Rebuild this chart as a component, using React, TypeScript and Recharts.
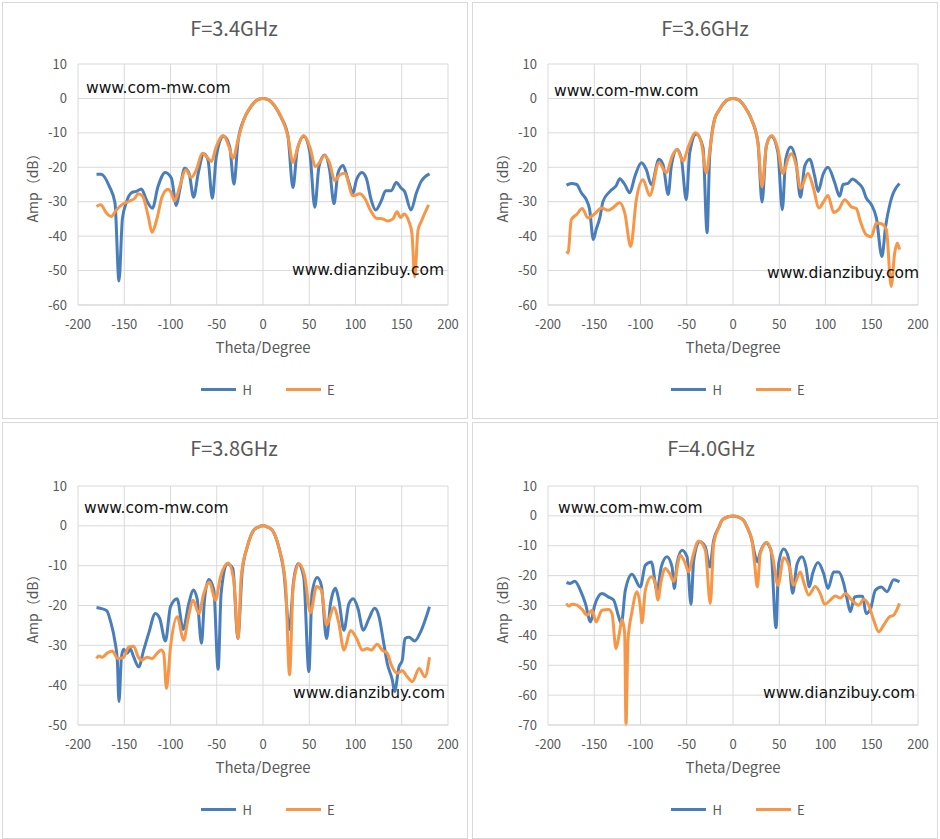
import React from 'react';
import { LineChart, Line, CartesianGrid, XAxis, YAxis, Legend } from 'recharts';

type Pt = [number, number];

const thetaTicks = [-200, -150, -100, -50, 0, 50, 100, 150, 200];
const ampTicks60 = [10, 0, -10, -20, -30, -40, -50, -60];
const ampTicks50 = [10, 0, -10, -20, -30, -40, -50];
const ampTicks70 = [10, 0, -10, -20, -30, -40, -50, -60, -70];
const titles = ['F=3.4GHz', 'F=3.6GHz', 'F=3.8GHz', 'F=4.0GHz'];
const seriesNames = ['H', 'E'];

// [theta (deg), amplitude (dB)]
const h34: Pt[] = [
  [-180, -22], [-175, -22], [-166, -25.6], [-160, -30.4], [-155.7, -53], [-152, -35], [-148, -30.4],
  [-141.6, -27.3], [-137, -27], [-131.5, -26.3], [-126, -29.5], [-119.6, -31.9], [-113.5, -25.6],
  [-105.6, -21.5], [-99, -23.2], [-93.7, -31.1], [-90, -26.6], [-84.7, -20.3], [-80, -21.7], [-75, -28.7],
  [-70, -21.7], [-64, -16.1], [-59.5, -17.8], [-54.8, -29], [-50.5, -16.9], [-42.5, -11], [-36, -14],
  [-31.4, -24.9], [-27, -12.5], [-20, -5.7], [-15, -3.2], [-10, -1.3], [-5, -0.3], [0, 0], [5, -0.3],
  [10, -1.3], [15, -3.2], [20, -5.7], [27, -11], [32.4, -25.9], [37, -15], [44, -11], [50.5, -15.4],
  [56, -31.6], [60.5, -19.8], [66.7, -16.4], [72, -20.7], [76.8, -30.6], [81, -21.7], [86.5, -19.5],
  [92, -23.7], [97.3, -27.5], [101, -23.7], [107, -21.5], [111.7, -23.2], [117, -29.5], [121.8, -32.4],
  [128, -29.7], [132.6, -26.8], [138.7, -26.8], [144, -24.4], [149.5, -26.1], [153, -27], [160, -32.4],
  [165.8, -27.5], [171, -24.1], [180, -21.9],
];
const e34: Pt[] = [
  [-180, -31.4], [-175.5, -30.9], [-169, -33.4], [-164, -34.3], [-158.6, -32.4], [-151, -30.6], [-144, -29.8],
  [-138.7, -29], [-135, -27.7], [-130, -28.5], [-124, -34.3], [-120, -38.9], [-115, -35.3], [-109, -28.5],
  [-102.7, -26.4], [-99, -27.5], [-95.5, -29.8], [-90, -25.6], [-83.6, -20.7], [-77.5, -22.9], [-72, -20.7],
  [-65.6, -15.9], [-61, -16.9], [-55.9, -18.3], [-50.5, -14], [-43, -10.8], [-36.8, -14], [-32.4, -17.4],
  [-27, -12], [-20, -5.6], [-15, -3.1], [-10, -1.3], [-5, -0.3], [0, 0], [5, -0.3], [10, -1.3], [15, -3.1],
  [20, -5.6], [27, -11], [32.4, -18.6], [37.8, -14], [44, -10.8], [50.5, -14], [57, -19.8], [61, -18.6],
  [66.7, -16.6], [72, -18.8], [77.5, -23.9], [83, -22.2], [88.3, -21.7], [97.3, -28.3], [104.5, -27.7],
  [110, -29], [116, -32.4], [122.5, -34.8], [129.7, -35], [135, -35.6], [140.5, -35], [144.9, -32.9],
  [148.8, -34.6], [152.4, -33.6], [157.8, -35.8], [161, -39.2], [164, -51.8], [167.6, -38.2], [171, -35.8],
  [179, -30.9],
];

const h36: Pt[] = [
  [-180, -25.2], [-174.8, -24.7], [-169, -25], [-164, -27.4], [-158.6, -29.4], [-155, -32.3], [-151, -41],
  [-148, -38.1], [-144, -34.7], [-140.5, -29.9], [-133, -27], [-126, -25.2], [-122.5, -23.3], [-117, -25],
  [-111.7, -27.4], [-106, -22.6], [-99, -18.7], [-93.7, -20.7], [-88.3, -25], [-80, -17.7], [-75.7, -19.2],
  [-70, -27.9], [-66.7, -19.7], [-60.5, -14.8], [-55.9, -17.3], [-50.5, -29.4], [-46.8, -15.8], [-39.6, -10.3],
  [-32.4, -14.3], [-28, -39], [-25.2, -16.8], [-20, -6.1], [-15, -3.4], [-10, -1.4], [-5, -0.3], [0, 0],
  [5, -0.3], [10, -1.4], [15, -3.4], [20, -6.1], [27, -12.9], [31.4, -30.1], [36, -13.9], [41.4, -11],
  [48.6, -15.8], [53.3, -32.3], [57, -17.7], [62.3, -14.1], [67.7, -17.7], [73, -28.7], [77.5, -19.7],
  [83, -17.7], [88.3, -22.6], [92, -27], [97.3, -22.1], [102.7, -20], [110, -24.5], [115.3, -28.4],
  [119, -25], [124.3, -24.7], [129, -23.4], [135, -24.5], [140.5, -26.3], [144, -28.9], [149.5, -30.8],
  [155, -34.7], [161, -45.9], [165, -37.1], [170, -30.3], [180, -24.7],
];
const e36: Pt[] = [
  [-180, -44.4], [-178.4, -44.9], [-174.8, -35.2], [-169, -33.7], [-163, -32], [-156.8, -34.7], [-149.5, -33.5],
  [-142.3, -31.8], [-135, -32.5], [-130, -31.8], [-122.5, -30.3], [-117, -33.3], [-110.6, -43], [-104.5, -29.4],
  [-97.3, -23.6], [-90, -28.2], [-80, -18.7], [-72, -21.6], [-65.6, -16.6], [-60.5, -14.8], [-54, -18.2],
  [-48.6, -14.3], [-40.4, -10], [-34.2, -12.9], [-28.8, -21.6], [-24.5, -13.9], [-20, -6.1], [-15, -3.4],
  [-10, -1.4], [-5, -0.3], [0, 0], [5, -0.3], [10, -1.4], [15, -3.4], [20, -6.1], [27, -12.9], [31.4, -25.7],
  [36, -13.9], [42, -10.8], [48.6, -14.8], [54, -21.8], [60.5, -16.8], [63, -16.1], [68.5, -19.7], [73, -26.1],
  [81, -21.8], [86.5, -25.6], [93, -31.8], [97.3, -30.3], [102.7, -28.2], [108.8, -33.1], [114.6, -32.1],
  [120.7, -29.4], [128, -31.5], [133.3, -32], [137.7, -35.7], [144, -39.6], [149.5, -40.2], [155, -36.2],
  [160.4, -36.4], [165.8, -38.1], [171, -54.6], [174.8, -44.9], [177.7, -42], [180, -43.9],
];

const h38: Pt[] = [
  [-180, -20.5], [-175.8, -20.7], [-169, -21.3], [-164.7, -24.1], [-160, -29.1], [-157.5, -33.7], [-155.7, -44.1],
  [-153, -32.9], [-150.6, -31], [-147, -32], [-143.4, -31], [-139.8, -32.9], [-134.4, -35.4], [-129, -31.2],
  [-123.6, -27], [-116.3, -22], [-111.6, -23.3], [-105.5, -28.9], [-100, -20.3], [-92.8, -18.3], [-86.4, -26],
  [-80.2, -19.5], [-75.5, -16.1], [-71.2, -18.3], [-66.5, -29.5], [-63.3, -18.7], [-58.6, -13.5], [-53.2, -16.1],
  [-48.5, -36], [-45.3, -17], [-38.8, -9.5], [-32.6, -10.7], [-27.2, -28.3], [-22.5, -11.5], [-17, -5.3],
  [-10, -1.1], [-5, -0.3], [0, 0], [5, -0.3], [10, -1.1], [17, -5.3], [22.5, -11.5], [28.5, -26], [33, -14],
  [38, -9.5], [44, -12.8], [49.6, -36.6], [53, -17], [58.6, -13], [63, -14.9], [68.7, -28.3], [73, -19.5],
  [78.4, -15.7], [82, -18.7], [87.5, -26.2], [92.9, -19.5], [97.6, -18.3], [102.6, -20.7], [108.4, -26.2],
  [114.5, -23.3], [120.7, -20.7], [125.4, -22.8], [130, -28.7], [134.3, -34.5], [139.8, -38.7], [142.3, -41.6],
  [147, -35.4], [150.6, -33.7], [153.5, -28.3], [157.8, -28], [164, -28.9], [170.4, -26.6], [180, -20.3],
];
const e38: Pt[] = [
  [-180, -33.3], [-177.6, -32.7], [-174, -33], [-168.6, -32], [-163, -31.4], [-157, -33.3], [-150.6, -33],
  [-145.2, -30.4], [-139.8, -30.2], [-135, -32.9], [-130.8, -33.7], [-125.4, -33], [-120, -33.3], [-114.5, -32],
  [-110.2, -31.2], [-107.3, -32], [-104.4, -40.8], [-100, -30.4], [-92.8, -22.8], [-85.7, -28.7], [-81.3, -23.7],
  [-75.5, -18.7], [-69.4, -22], [-64, -17], [-57.9, -14.1], [-51.4, -18.7], [-46, -12.8], [-37.7, -9.3],
  [-31.6, -13.7], [-26.9, -28.3], [-23.6, -12.8], [-17, -5.3], [-10, -1.1], [-5, -0.3], [0, 0], [5, -0.3],
  [10, -1.1], [17, -5.3], [24.3, -14.5], [28.7, -37.4], [32.6, -15.3], [38.8, -9.5], [44.9, -12.4],
  [51.4, -21.8], [57.9, -15.2], [63, -16.1], [68.7, -24.9], [76.6, -20.5], [82, -24.5], [87.5, -31.2],
  [94.7, -26.3], [101.2, -28.3], [107.4, -31.2], [112.7, -30.8], [117, -31.2], [123.5, -29.7], [128.9, -31.2],
  [134.3, -32], [138.7, -34.9], [145.1, -37], [150.6, -36.4], [156, -37.9], [161.5, -39.1], [168.8, -35.8],
  [175, -37.9], [180, -33],
];

const h40: Pt[] = [
  [-180, -22.3], [-175.9, -22.6], [-171, -21.9], [-165, -24.9], [-159.6, -29.3], [-154, -35.5], [-149.5, -29.9],
  [-141.6, -26], [-135, -27.1], [-129, -28.2], [-123.6, -33.8], [-120.7, -36], [-116.4, -24.9], [-109.2, -19.5],
  [-100.2, -23.8], [-94.8, -16.5], [-88.3, -15.4], [-82.2, -24.9], [-77.5, -17.1], [-71.4, -13.7], [-65.9, -17.1],
  [-63.4, -24.3], [-60.5, -15.9], [-55.1, -11.5], [-49.7, -13.7], [-45.4, -29.6], [-42.5, -14.9], [-36, -8.7],
  [-29.9, -10.4], [-25.2, -17.1], [-20.9, -8.2], [-15, -3.6], [-11.9, -1.5], [-5, -0.3], [0, 0], [5, -0.3],
  [11.5, -1.5], [15, -3.6], [20.5, -8.2], [23.4, -12.6], [26.3, -15.4], [29.5, -12.1], [35.7, -9], [41, -11.5],
  [46.5, -37.4], [49.4, -15.9], [54.8, -11.1], [60.2, -14.3], [64.5, -25.9], [69.2, -16.2], [74.6, -13.7],
  [78.9, -17.1], [82.5, -23.8], [86.1, -19.3], [91.9, -15.6], [98, -19.3], [102.7, -24.3], [108.8, -18.8],
  [114.2, -18.8], [119.6, -22.6], [123.2, -27.6], [126.8, -32.1], [131.5, -27.1], [135.9, -26.9], [140.2, -26.9],
  [143.8, -32.7], [148.5, -31.3], [153.9, -24.9], [160.4, -23.8], [166.5, -25.4], [173.7, -21.4], [180, -22.1],
];
const e40: Pt[] = [
  [-180, -29.3], [-177.7, -30.2], [-174, -29.6], [-168.6, -29.9], [-163.2, -31.3], [-157.8, -33.2], [-152.4, -31.6],
  [-148, -35.5], [-141.6, -31.6], [-134.4, -31.3], [-130.8, -32.7], [-126.5, -44.4], [-122.9, -39.4], [-120, -34.7],
  [-117.1, -39.4], [-115.7, -70], [-113.5, -41.6], [-109.2, -32.1], [-103.8, -25.4], [-100.2, -30.4], [-98.4, -35.8],
  [-94.8, -24.9], [-88.3, -20.4], [-84, -22.6], [-81.4, -28.2], [-77.5, -21.5], [-73.2, -17.6], [-68.5, -19.3],
  [-64.1, -21.9], [-56.9, -13.2], [-51.5, -16], [-47.9, -18.8], [-43.6, -13.7], [-37.1, -8.4], [-29.9, -11.5],
  [-24.5, -29.3], [-20.9, -9.3], [-15, -3.6], [-11.9, -1.5], [-5, -0.3], [0, 0], [5, -0.3], [11.5, -1.5],
  [15, -3.6], [20.5, -8.2], [23.4, -16], [26.3, -23.8], [29.5, -12.6], [36.8, -8.9], [42.9, -13.7], [48.6, -23.2],
  [54.8, -14], [61, -17.1], [65.6, -23.2], [72.8, -18.8], [76.4, -22.1], [81.8, -26.5], [89, -23.6], [94.4, -26],
  [99.1, -29.6], [105.2, -28.2], [110.6, -26.8], [116, -27.5], [121.4, -26], [128.6, -28.2], [135.9, -29.9],
  [141.3, -27.9], [146.7, -29.9], [152.1, -34.9], [157.5, -38.8], [162.9, -36.6], [169, -33.8], [173.7, -33.2],
  [180, -29.3],
];

const BLUE = '#4a7ebb';
const ORANGE = '#f79646';
const GRID = '#d9d9d9';
const TEXT = '#595959';
const FONT = '"Noto Sans CJK SC", "Noto Sans", sans-serif';
const MARK_FONT = '"DejaVu Sans", Verdana, sans-serif';
const W = 466;
const H = 417;

const toRows = (pts: Pt[]) => pts.map(([theta, amp]) => ({ theta, amp }));

const PanelLegend = () => (
  <div
    style={{
      display: 'flex',
      justifyContent: 'center',
      alignItems: 'center',
      height: 20,
      paddingLeft: 10,
      fontFamily: FONT,
      fontSize: 13,
      color: TEXT,
    }}
  >
    {seriesNames.map((name, i) => (
      <div key={name} style={{ display: 'flex', alignItems: 'center', marginLeft: i ? 34 : 0 }}>
        <span style={{ display: 'inline-block', width: 35, height: 3, background: i ? ORANGE : BLUE }} />
        <span style={{ marginLeft: 6 }}>{name}</span>
      </div>
    ))}
  </div>
);

interface PanelProps {
  left: number;
  top: number;
  title: string;
  titleX: number;
  plotTop: number;
  yTicks: number[];
  h: Pt[];
  e: Pt[];
  mark1: [number, number];
  mark2: [number, number];
}

const Panel: React.FC<PanelProps> = ({ left, top, title, titleX, plotTop, yTicks, h, e, mark1, mark2 }) => {
  const tickStyle = { fill: TEXT, fontSize: 13, fontFamily: FONT };
  const markStyle: React.CSSProperties = {
    position: 'absolute',
    lineHeight: '20px',
    fontFamily: MARK_FONT,
    fontSize: 15.5,
    fontWeight: 500,
    color: '#111',
    whiteSpace: 'nowrap',
  };
  return (
    <div
      style={{
        position: 'absolute',
        left,
        top,
        width: W,
        height: H,
        boxSizing: 'border-box',
        border: `1px solid ${GRID}`,
        background: '#fff',
      }}
    >
      <div style={{ position: 'absolute', left: -1, top: -1, width: W, height: H }}>
        <LineChart width={W} height={H} margin={{ top: plotTop, right: 20, bottom: 20, left: 16 }}>
          <CartesianGrid stroke={GRID} />
          <XAxis
            dataKey="theta"
            type="number"
            domain={[-200, 200]}
            ticks={thetaTicks}
            allowDuplicatedCategory={false}
            height={74}
            stroke={GRID}
            tickLine={false}
            tickSize={0}
            tickMargin={15}
            tick={tickStyle}
            label={{
              value: 'Theta/Degree',
              position: 'insideTop',
              offset: 37,
              style: { fill: TEXT, fontSize: 15, fontFamily: FONT },
            }}
          />
          <YAxis
            type="number"
            domain={[yTicks[yTicks.length - 1], yTicks[0]]}
            ticks={yTicks}
            width={60}
            axisLine={false}
            tickLine={false}
            tickSize={0}
            tickMargin={11}
            tick={tickStyle}
            label={{
              value: 'Amp（dB）',
              angle: -90,
              position: 'insideLeft',
              offset: 15,
              style: { fill: TEXT, fontSize: 14, fontFamily: FONT, textAnchor: 'middle' },
            }}
          />
          <Legend verticalAlign="bottom" height={20} wrapperStyle={{ left: 76, width: 370 }} content={<PanelLegend />} />
          <Line
            data={toRows(h)}
            dataKey="amp"
            name="H"
            type="monotone"
            stroke={BLUE}
            strokeWidth={3}
            dot={false}
            isAnimationActive={false}
          />
          <Line
            data={toRows(e)}
            dataKey="amp"
            name="E"
            type="monotone"
            stroke={ORANGE}
            strokeWidth={3}
            dot={false}
            isAnimationActive={false}
          />
        </LineChart>
        <div
          style={{
            position: 'absolute',
            left: titleX - 120,
            width: 240,
            top: 12,
            height: 28,
            lineHeight: '28px',
            textAlign: 'center',
            fontFamily: FONT,
            fontSize: 20,
            color: TEXT,
          }}
        >
          {title}
        </div>
        <div style={{ ...markStyle, left: mark1[0], top: mark1[1] - 10 }}>www.com-mw.com</div>
        <div style={{ ...markStyle, left: mark2[0], top: mark2[1] - 10 }}>www.dianzibuy.com</div>
      </div>
    </div>
  );
};

export default function App() {
  return (
    <div style={{ position: 'absolute', left: 0, top: 0, width: 940, height: 839, background: '#fff' }}>
      <Panel left={2} top={2} title={titles[0]} titleX={232} plotTop={62} yTicks={ampTicks60} h={h34} e={e34} mark1={[84, 86]} mark2={[290, 268]} />
      <Panel left={472} top={2} title={titles[1]} titleX={233} plotTop={62} yTicks={ampTicks60} h={h36} e={e36} mark1={[82, 89]} mark2={[295, 271]} />
      <Panel left={2} top={422} title={titles[2]} titleX={232} plotTop={64} yTicks={ampTicks50} h={h38} e={e38} mark1={[82, 86]} mark2={[291, 271]} />
      <Panel left={472} top={422} title={titles[3]} titleX={239} plotTop={64} yTicks={ampTicks70} h={h40} e={e40} mark1={[86, 86]} mark2={[291, 271]} />
    </div>
  );
}
